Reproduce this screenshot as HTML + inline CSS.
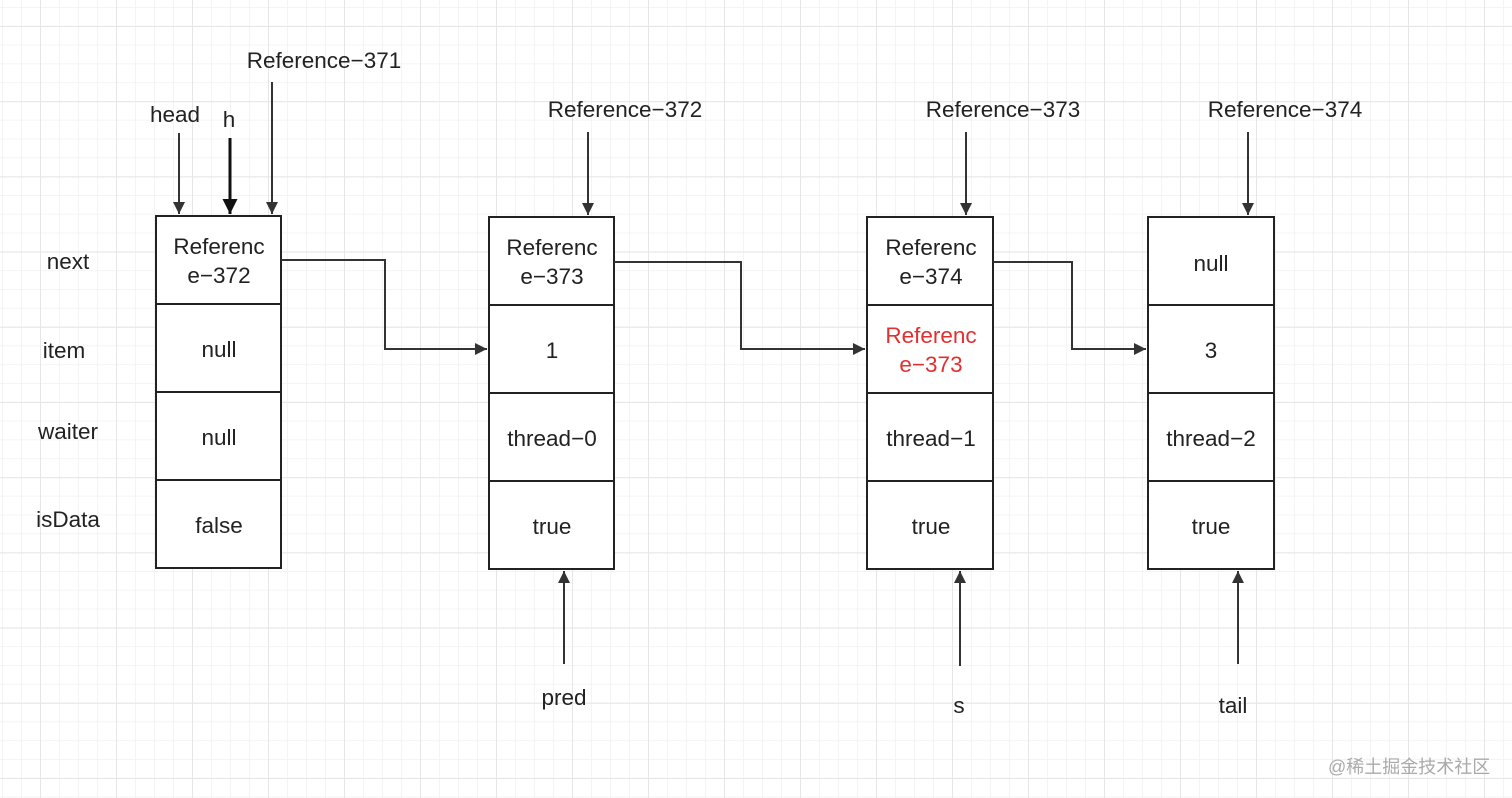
<!DOCTYPE html>
<html><head><meta charset="utf-8"><style>
html,body{margin:0;padding:0;background:#fff}
svg{display:block}
text{font-family:"Liberation Sans","Noto Sans CJK SC",sans-serif;font-size:22.5px;fill:#222}
</style></head><body>
<svg width="1512" height="798" viewBox="0 0 1512 798" xmlns="http://www.w3.org/2000/svg">
<defs>
<pattern id="g" x="2" y="7" width="19" height="18.8" patternUnits="userSpaceOnUse">
<path d="M0 0V18.8M0 0H19" stroke="#f1f1f1" stroke-width="1.5" fill="none"/>
</pattern>
<pattern id="G" x="40" y="26" width="76" height="75.2" patternUnits="userSpaceOnUse">
<path d="M0 0V75.2M0 0H76" stroke="#e6e6e6" stroke-width="2" fill="none"/>
</pattern>
<marker id="a" viewBox="0 0 10 10" refX="10" refY="5" markerWidth="7" markerHeight="6" orient="auto" markerUnits="strokeWidth"><path d="M0 0L10 5L0 10z" fill="#333"/></marker>
<marker id="b" viewBox="0 0 10 10" refX="10" refY="5" markerWidth="6" markerHeight="5" orient="auto" markerUnits="strokeWidth"><path d="M0 0L10 5L0 10z" fill="#111"/></marker>
</defs>
<rect width="1512" height="798" fill="url(#g)"/>
<rect width="1512" height="798" fill="url(#G)"/>
<g fill="#fff" stroke="#222" stroke-width="2">
<rect x="156" y="216" width="125" height="352"/>
<rect x="489" y="217" width="125" height="352"/>
<rect x="867" y="217" width="126" height="352"/>
<rect x="1148" y="217" width="126" height="352"/>
</g>
<g stroke="#222" stroke-width="2">
<path d="M156 304H281M156 392H281M156 480H281"/>
<path d="M489 305H614M489 393H614M489 481H614"/>
<path d="M867 305H993M867 393H993M867 481H993"/>
<path d="M1148 305H1274M1148 393H1274M1148 481H1274"/>
</g>
<g stroke="#333" stroke-width="2" fill="none" marker-end="url(#a)">
<path d="M179 133V214"/>
<path d="M230 138V214" stroke-width="3" stroke="#111" marker-end="url(#b)"/>
<path d="M272 82V214"/>
<path d="M588 132V215"/>
<path d="M966 132V215"/>
<path d="M1248 132V215"/>
<path d="M281 260H385V349H487"/>
<path d="M614 262H741V349H865"/>
<path d="M993 262H1072V349H1146"/>
<path d="M564 664V571"/>
<path d="M960 666V571"/>
<path d="M1238 664V571"/>
</g>
<g text-anchor="middle">
<text x="324" y="68">Reference−371</text>
<text x="175" y="122">head</text>
<text x="229" y="127">h</text>
<text x="625" y="117">Reference−372</text>
<text x="1003" y="117">Reference−373</text>
<text x="1285" y="117">Reference−374</text>
<text x="68" y="269">next</text>
<text x="64" y="358">item</text>
<text x="68" y="439">waiter</text>
<text x="68" y="527">isData</text>
<text x="219" y="254">Referenc</text><text x="219" y="283">e−372</text>
<text x="219" y="357">null</text>
<text x="219" y="445">null</text>
<text x="219" y="533">false</text>
<text x="552" y="255">Referenc</text><text x="552" y="284">e−373</text>
<text x="552" y="358">1</text>
<text x="552" y="446">thread−0</text>
<text x="552" y="534">true</text>
<text x="931" y="255">Referenc</text><text x="931" y="284">e−374</text>
<text x="931" y="343" style="fill:#e03030">Referenc</text><text x="931" y="372" style="fill:#e03030">e−373</text>
<text x="931" y="446">thread−1</text>
<text x="931" y="534">true</text>
<text x="1211" y="271">null</text>
<text x="1211" y="358">3</text>
<text x="1211" y="446">thread−2</text>
<text x="1211" y="534">true</text>
<text x="564" y="705">pred</text>
<text x="959" y="713">s</text>
<text x="1233" y="713">tail</text>
</g>
<text x="1328" y="773" style="font-size:18px;fill:#aaa">@稀土掘金技术社区</text>
</svg>
</body></html>
